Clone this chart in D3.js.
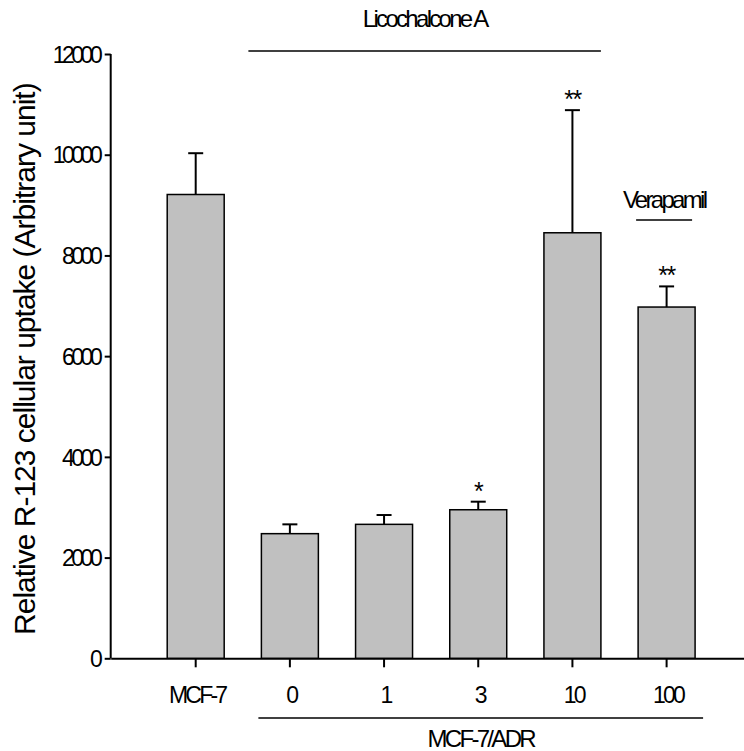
<!DOCTYPE html>
<html>
<head>
<meta charset="utf-8">
<script src="https://cdn.jsdelivr.net/npm/d3@7"></script>
<style>
  html, body { margin: 0; padding: 0; background: #fff; }
  svg { display: block; }
  text { font-family: "Liberation Sans", Arial, sans-serif; fill: #000; }
</style>
</head>
<body>
<svg></svg>
<script>
// data
var categories = ['MCF-7', '0', '1', '3', '10', '100'];
var means = [9210, 2475, 2660, 2950, 8450, 6975];
var errors = [820, 185, 185, 160, 2435, 410];
var marks = ['', '', '', '*', '**', '**'];
var yTicks = [0, 2000, 4000, 6000, 8000, 10000, 12000];

var width = 744;
var height = 751;

var svg = d3.select('svg')
    .attr('width', width)
    .attr('height', height);

var y = d3.scaleLinear()
    .domain([0, 12000])
    .range([658.3, 54]);

var x = d3.scaleBand()
    .domain(categories)
    .range([110.7, 751.6])
    .paddingInner(0.395)
    .paddingOuter(0.6);

var bw = x.bandwidth();
var cx = d => x(d) + bw / 2;

// y axis
var yAxis = svg.append('g')
    .attr('transform', 'translate(110.7,0)')
    .call(d3.axisLeft(y).tickValues(yTicks).tickFormat(d3.format('d'))
        .tickSize(6).tickSizeOuter(0).tickPadding(9));
yAxis.select('.domain').attr('stroke-width', 2).attr('d', `M0,${y(12000)}V${y(0)}`);
yAxis.selectAll('.tick line').attr('stroke-width', 2);
yAxis.selectAll('.tick text')
    .attr('font-size', 23)
    .attr('letter-spacing', -3.5)
    .attr('dx', 3.5)
    .attr('dy', '0.36em');

// x axis
var xAxis = svg.append('g')
    .attr('transform', `translate(0,${y(0)})`)
    .call(d3.axisBottom(x).tickSize(9).tickSizeOuter(0).tickPadding(0));
xAxis.select('.domain').attr('stroke-width', 2);
xAxis.selectAll('.tick line').attr('stroke-width', 2);
xAxis.selectAll('.tick text')
    .attr('font-size', 23)
    .attr('letter-spacing', -2.8)
    .attr('dx', 1.4)
    .attr('y', 45)
    .attr('dy', 0);

// bars
svg.append('g').selectAll('rect')
    .data(categories)
    .enter().append('rect')
    .attr('x', d => x(d))
    .attr('y', (d, i) => y(means[i]))
    .attr('width', bw)
    .attr('height', (d, i) => y(0) - y(means[i]))
    .attr('fill', '#c0c0c0')
    .attr('stroke', '#000')
    .attr('stroke-width', 1.5);

// error bars (upper only)
var eb = svg.append('g').attr('stroke', '#000').attr('stroke-width', 2);
categories.forEach((c, i) => {
    var top = y(means[i] + errors[i]);
    eb.append('line')
        .attr('x1', cx(c)).attr('x2', cx(c))
        .attr('y1', y(means[i])).attr('y2', top);
    eb.append('line')
        .attr('x1', cx(c) - 7.5).attr('x2', cx(c) + 7.5)
        .attr('y1', top).attr('y2', top);
});

// significance marks
svg.append('g').selectAll('text')
    .data(categories)
    .enter().append('text')
    .attr('x', d => cx(d))
    .attr('y', (d, i) => y(means[i] + errors[i]) - 2)
    .attr('text-anchor', 'middle')
    .attr('font-size', 25)
    .attr('letter-spacing', -1.5)
    .text((d, i) => marks[i]);

// group annotations
function groupLine(x1, x2, ly, label, ty) {
    svg.append('line')
        .attr('x1', x1).attr('x2', x2)
        .attr('y1', ly).attr('y2', ly)
        .attr('stroke', '#000').attr('stroke-width', 1.5);
    svg.append('text')
        .attr('x', (x1 + x2) / 2)
        .attr('y', ty)
        .attr('text-anchor', 'middle')
        .attr('font-size', 24)
        .attr('letter-spacing', -2.7)
        .text(label);
}
groupLine(x('0') - 13, x('10') + bw, 51, 'Licochalcone A', 27);
groupLine(x('100') - 2, x('100') + bw - 3, 220, 'Verapamil', 208);
groupLine(x('0') - 3, x('100') + bw + 8, 718, 'MCF-7/ADR', 747);

// y label
svg.append('text')
    .attr('transform', `translate(35,${(y(0) + y(12000)) / 2 + 3}) rotate(-90)`)
    .attr('text-anchor', 'middle')
    .attr('font-size', 30)
    .attr('letter-spacing', -1)
    .text('Relative R-123 cellular uptake (Arbitrary unit)');
</script>
</body>
</html>
